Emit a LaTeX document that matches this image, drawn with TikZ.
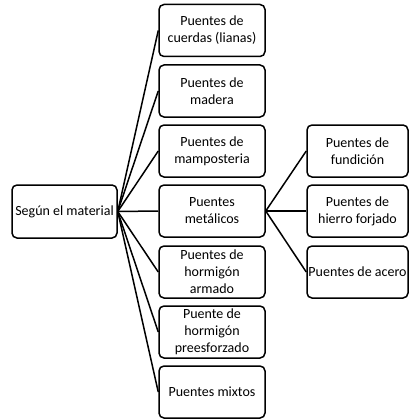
\documentclass[tikz,border=0pt]{standalone}
\usepackage{fontspec}
\setmainfont{Carlito}
\begin{document}
\begin{tikzpicture}[x=1pt,y=-1pt,
  box/.style={draw, line width=1.5pt, rounded corners=5pt, align=center, inner sep=0pt, font=\fontsize{14}{17}\selectfont},
  link/.style={line width=1.5pt}]
\useasboundingbox (0,0) rectangle (409,420);
\node[box, minimum width=105pt, minimum height=53pt] (root) at (64.5,211.5) {Según el material};
\foreach \n/\y/\t in {m1/30.5/{Puentes de\\cuerdas (lianas)}, m2/91/{Puentes de\\madera}, m3/151/{Puentes de\\mamposteria}, m4/211/{Puentes\\metálicos}, m5/272/{Puentes de\\hormigón\\armado}, m6/332/{Puente de\\hormigón\\preesforzado}, m7/392/{Puentes mixtos}}{
  \node[box, minimum width=106pt, minimum height=52pt] (\n) at (212,\y) {\t};
  \draw[link] (root.east) -- (\n.west);
}
\foreach \n/\y/\t in {r1/151/{Puentes de\\fundición}, r2/211/{Puentes de\\hierro forjado}, r3/272/{Puentes de acero}}{
  \node[box, minimum width=101pt, minimum height=52pt] (\n) at (357.5,\y) {\t};
  \draw[link] (m4.east) -- (\n.west);
}
\end{tikzpicture}
\end{document}
